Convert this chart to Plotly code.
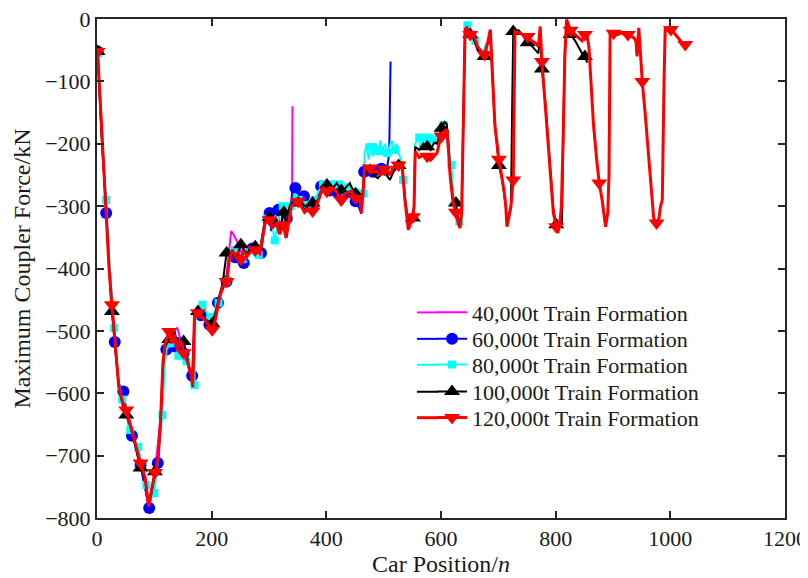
import plotly.graph_objects as go

# ---------------- data ----------------
mag_x = [1,8,16,26,38,51,63,76,90,101,111,119,126,135,140,146,151,160,167,170,182,194,201,213,219,226,231,234,238,242,246,251,256,262,268,276,284,289,293,301,306,313,318,326,330,334,338,340,341]
mag_y = [-52,-180,-305,-455,-590,-625,-665,-710,-780,-725,-640,-520,-505,-500,-495,-512,-530,-560,-585,-475,-478,-488,-495,-448,-425,-410,-370,-340,-345,-354,-360,-375,-368,-378,-372,-368,-375,-348,-325,-320,-330,-325,-340,-328,-345,-320,-305,-300,-140]

blue_x = [1,8,16,23,31,38,46,52,56,61,66,71,76,81,86,91,96,101,106,111,116,121,126,131,136,141,146,151,156,161,166,170,176,181,186,191,196,201,206,211,216,221,226,231,236,241,246,251,256,261,266,271,276,281,286,291,296,301,304,306,311,316,320,324,328,331,336,339,341,346,351,356,361,366,371,376,381,386,391,396,401,406,411,416,421,426,431,436,441,446,451,456,461,463,466,471,476,481,486,491,496,501,506,509,510,512]
blue_y = [-52,-185,-311,-420,-518,-585,-597,-630,-655,-668,-680,-700,-715,-740,-760,-784,-755,-725,-712,-650,-560,-530,-525,-520,-525,-510,-530,-536,-545,-560,-572,-480,-478,-475,-480,-485,-490,-492,-470,-455,-440,-430,-421,-385,-378,-382,-390,-388,-391,-375,-370,-368,-372,-378,-375,-340,-318,-311,-340,-310,-312,-306,-345,-310,-350,-320,-305,-290,-275,-271,-280,-290,-284,-300,-305,-300,-295,-280,-268,-270,-272,-275,-270,-275,-280,-285,-278,-278,-280,-290,-292,-300,-312,-280,-245,-242,-240,-245,-238,-240,-240,-235,-238,-220,-195,-68]

cyan_x = [2,9,16,23,30,37,44,51,58,65,72,79,86,90,93,100,107,114,118,121,128,135,142,149,156,163,170,172,177,184,191,198,205,212,219,226,233,240,247,254,261,268,275,282,289,296,303,310,317,324,328,331,338,345,352,359,366,373,380,387,394,401,408,415,422,429,436,443,450,457,461,464,467,470,474,478,482,486,492,494,498,502,506,510,514,520,522,526,530,534,537,543,548,553,555,562,564,568,572,576,580,584,590,592,596,600,604,608,612,618,622,626,632,634,637,640,643,646,650,655,660,665,670,674,678,682]
cyan_y = [-55,-190,-290,-410,-495,-580,-610,-630,-659,-675,-686,-720,-747,-775,-770,-760,-700,-635,-560,-530,-520,-505,-540,-545,-549,-565,-587,-480,-462,-458,-470,-478,-470,-455,-425,-420,-378,-370,-372,-385,-370,-372,-380,-378,-345,-320,-318,-355,-320,-300,-350,-322,-300,-280,-290,-300,-298,-300,-290,-275,-265,-272,-265,-270,-265,-285,-270,-268,-278,-285,-300,-280,-215,-200,-225,-205,-220,-200,-212,-195,-210,-200,-215,-205,-195,-210,-200,-215,-225,-258,-285,-330,-320,-300,-200,-190,-210,-195,-205,-190,-200,-185,-195,-180,-190,-175,-170,-175,-200,-234,-290,-300,-325,-335,-300,-100,-5,-10,-20,-25,-35,-50,-55,-55,-40,-38]

black_x = [1,8,16,21,26,32,38,45,51,58,63,70,76,84,88,90,94,98,101,107,111,115,119,126,130,135,140,146,151,158,164,167,170,176,182,188,194,201,207,213,219,226,231,236,240,246,251,256,262,268,276,284,289,293,301,306,313,318,326,330,336,339,345,351,356,362,368,376,380,387,394,401,406,412,418,426,432,441,444,451,455,459,461,464,467,476,481,490,494,501,505,511,517,522,526,532,537,543,551,553,555,562,569,576,582,588,593,598,601,606,610,613,616,621,626,630,633,636,639,642,648,651,656,660,664,668,676,681,686,690,694,701,706,710,713,715,718,722,724,726,735,742,751,755,760,765,770,773,776,782,788,793,796,801,804,808,811,813,816,819,823,826,834,840,846,851,855]
black_y = [-52,-185,-305,-400,-469,-525,-590,-620,-635,-652,-670,-695,-720,-738,-765,-780,-765,-745,-726,-700,-645,-555,-525,-514,-515,-500,-520,-515,-517,-545,-575,-590,-480,-469,-475,-480,-485,-488,-470,-445,-425,-375,-380,-372,-385,-375,-362,-370,-375,-370,-365,-372,-345,-320,-318,-330,-320,-340,-310,-330,-300,-295,-290,-295,-300,-305,-300,-295,-300,-285,-272,-266,-268,-271,-263,-275,-272,-263,-270,-280,-285,-280,-300,-270,-236,-243,-250,-255,-250,-245,-250,-258,-245,-240,-235,-235,-285,-330,-319,-300,-205,-210,-200,-205,-210,-198,-200,-185,-175,-165,-168,-200,-250,-290,-295,-320,-330,-305,-150,-15,-20,-25,-30,-40,-50,-55,-60,-40,-20,-100,-170,-235,-255,-280,-300,-330,-318,-300,-150,-20,-18,-25,-38,-40,-45,-50,-55,-20,-80,-135,-215,-275,-305,-330,-340,-327,-327,-200,-50,-5,-15,-25,-35,-45,-55,-60,-70]

red_x = [1,8,16,21,26,32,38,45,51,58,63,70,76,84,88,90,94,98,101,107,111,115,119,126,130,135,140,146,151,158,164,167,170,176,182,188,194,201,207,213,219,226,231,236,240,246,251,256,262,268,276,284,289,293,301,306,313,318,326,330,334,339,345,351,356,362,368,376,380,387,394,401,406,412,418,426,432,438,444,451,455,459,461,464,467,476,481,488,494,501,505,511,517,522,526,532,537,543,551,553,555,562,569,576,582,588,593,598,601,606,610,613,616,621,626,630,633,636,639,642,645,651,656,660,664,668,672,676,681,686,690,694,701,706,710,713,715,718,722,726,729,735,742,746,751,758,764,768,770,773,776,782,788,793,796,801,804,808,810,813,816,819,823,826,834,840,846,851,855,858,861,866,872,876,881,885,887,891,893,895,901,908,915,920,926,932,936,940,942,945,948,951,956,960,965,968,971,976,980,983,986,989,991,996,1001,1008,1012,1018,1022,1026]
red_y = [-52,-180,-311,-400,-458,-520,-590,-615,-627,-650,-668,-690,-712,-735,-770,-782,-760,-740,-727,-700,-640,-551,-520,-501,-520,-505,-530,-515,-535,-550,-570,-589,-476,-471,-478,-482,-490,-498,-480,-450,-430,-421,-385,-370,-378,-375,-385,-372,-380,-373,-370,-376,-350,-327,-322,-335,-327,-345,-330,-351,-327,-300,-295,-292,-300,-310,-305,-308,-306,-290,-271,-276,-270,-271,-278,-290,-280,-278,-276,-287,-290,-284,-311,-280,-236,-239,-245,-244,-250,-241,-241,-250,-238,-232,-234,-231,-290,-338,-317,-300,-212,-222,-218,-220,-226,-220,-215,-195,-188,-180,-177,-210,-252,-295,-310,-327,-335,-311,-150,-17,-14,-25,-22,-35,-45,-49,-55,-57,-40,-17,-100,-170,-225,-250,-275,-300,-333,-320,-300,-258,-20,-22,-25,-26,-28,-35,-38,-42,-44,-12,-68,-140,-220,-280,-311,-333,-343,-320,-300,-193,-60,-1,-10,-18,-25,-30,-35,-25,-28,-45,-90,-170,-230,-263,-290,-320,-333,-310,-250,-22,-23,-25,-22,-25,-25,-28,-30,-35,-60,-14,-60,-100,-150,-199,-260,-290,-320,-327,-320,-300,-290,-100,-17,-18,-17,-24,-28,-35,-40,-41]

names = ["40,000t Train Formation", "60,000t Train Formation", "80,000t Train Formation",
         "100,000t Train Formation", "120,000t Train Formation"]
x_ticks = [0, 200, 400, 600, 800, 1000, 1200]
y_ticks = [0, -100, -200, -300, -400, -500, -600, -700, -800]

# ---------------- style ----------------
FONT = "Liberation Serif"
series = [
    # x, y, color, line width, symbol, marker size, marker start, marker step
    (mag_x, mag_y, "#FF00FF", 2, None, 0, 1, 1),
    (blue_x, blue_y, "#0000FF", 2, "circle", 12, 1, 15),
    (cyan_x, cyan_y, "#00FFFF", 2, "square", 8, 2, 14),
    (black_x, black_y, "#000000", 2, "triangle-up", 14, 1, 25),
    (red_x, red_y, "#FF0000", 3, "triangle-down", 14, 1, 25),
]
legend_ids = ["legend", "legend2", "legend3", "legend4", "legend5"]
legend_rows = [0.412, 0.359, 0.307, 0.253, 0.201]
LEG_X = 0.487          # left edge of each one-row legend (paper units)
LEG_EXT = (0.465, 0.496)  # extra left part of the legend line sample (paper units)

fig = go.Figure()

# legend entries (one legend per row for exact row spacing)
for (xs, ys, col, lw, sym, ms, m0, mstep), nm, lid in zip(series, names, legend_ids):
    fig.add_trace(go.Scatter(
        x=[None], y=[None], name=nm, legend=lid,
        mode="lines+markers" if sym else "lines",
        line=dict(color=col, width=lw),
        marker=dict(symbol=sym or "circle", size=ms, color=col, line=dict(width=0)),
        showlegend=True))

for (xs, ys, col, lw, sym, ms, m0, mstep), nm in zip(series, names):
    fig.add_trace(go.Scatter(x=xs, y=ys, mode="lines", name=nm, showlegend=False,
                             line=dict(color=col, width=lw)))
    if sym:
        mx = [x for x in xs if (x - m0) % mstep == 0]
        my = [y for x, y in zip(xs, ys) if (x - m0) % mstep == 0]
        fig.add_trace(go.Scatter(x=mx, y=my, mode="markers", name=nm, showlegend=False,
                                 marker=dict(symbol=sym, size=ms, color=col,
                                             line=dict(width=0))))

# lengthen the legend line samples to the left (MATLAB-style longer sample)
for (xs, ys, col, lw, *_), yy in zip(series, legend_rows):
    fig.add_shape(type="line", xref="paper", yref="paper",
                  x0=LEG_EXT[0], x1=LEG_EXT[1], y0=yy, y1=yy,
                  line=dict(color=col, width=lw), layer="above")

axis_common = dict(
    showline=True, linecolor="#262626", linewidth=2, mirror="ticks",
    ticks="inside", ticklen=7, tickwidth=2, tickcolor="#262626",
    showgrid=False, zeroline=False, automargin=False,
    ticklabeloverflow="allow",
    tickfont=dict(family=FONT, size=22, color="#1a1a1a"),
)

legend_style = dict(xanchor="left", yanchor="middle", bgcolor="rgba(0,0,0,0)",
                    borderwidth=0, font=dict(family=FONT, size=22, color="#1a1a1a"),
                    itemwidth=30)

layout_legends = {lid: dict(x=LEG_X, y=yy, **legend_style)
                  for lid, yy in zip(legend_ids, legend_rows)}

# the page adds an 8 px body margin, so the figure is 8 px smaller and margins shifted
fig.update_layout(
    width=800, height=570,
    margin=dict(l=89, r=23, t=11, b=60),
    paper_bgcolor="white", plot_bgcolor="white",
    font=dict(family=FONT, size=22, color="#1a1a1a"),
    xaxis=dict(range=[0, 1200], tickmode="array", tickvals=x_ticks,
               title=dict(text="Car Position/<i>n</i>", font=dict(family=FONT, size=24),
                          standoff=4),
               **axis_common),
    yaxis=dict(range=[-800, 0], tickmode="array", tickvals=y_ticks,
               title=dict(text="Maximum Coupler Force/kN", font=dict(family=FONT, size=24),
                          standoff=8),
               **axis_common),
    **layout_legends,
)

fig.write_html("out.html")
